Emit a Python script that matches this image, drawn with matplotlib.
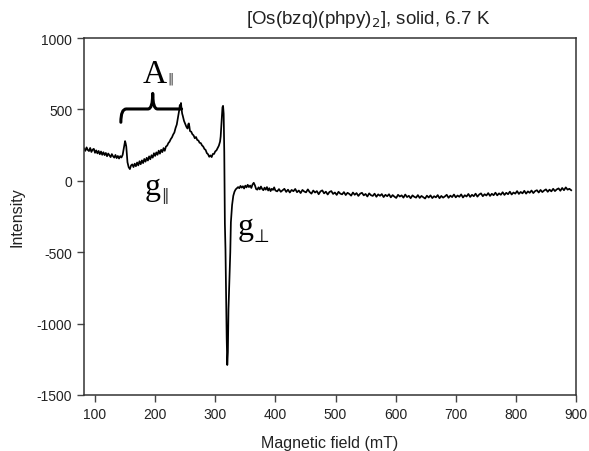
import matplotlib
matplotlib.use("Agg")
import matplotlib.pyplot as plt
from matplotlib.path import Path
from matplotlib.patches import PathPatch

# EPR spectrum of the solid at 6.7 K, as (field in mT, intensity) pairs,
# split into regions of the sweep.
low_field = [
    (82, 226), (84, 210), (86, 234), (88, 216), (90, 208), (92, 230), (94, 202),
    (96, 218), (98, 224), (100, 196), (102, 213), (104, 192), (106, 209), (108, 186),
    (110, 205), (112, 182), (114, 200), (116, 180), (118, 195), (120, 172), (122, 191),
    (124, 178), (126, 166), (128, 187), (130, 172), (132, 162), (134, 181), (136, 159),
    (138, 174), (140, 156), (142, 173), (144, 163), (146, 182),
]
parallel_region = [
    (148, 230), (150, 278), (151, 262), (152, 240), (153, 180), (154, 130), (156, 95),
    (158, 82), (160, 108), (162, 115), (164, 96), (166, 120), (168, 102), (170, 128),
    (172, 108), (174, 137), (176, 116), (178, 143), (180, 124), (182, 153), (184, 134),
    (186, 161), (188, 142), (190, 171), (192, 151), (194, 179), (196, 162), (198, 193),
    (200, 174), (202, 199), (204, 182), (206, 211), (208, 190), (210, 217), (212, 201),
    (214, 229), (216, 210), (218, 240), (220, 246), (222, 264), (224, 274), (226, 292),
    (228, 304), (230, 324), (232, 338), (234, 370), (236, 394), (238, 442), (240, 493),
    (241, 530), (242, 518), (243, 545), (244, 500), (245, 470), (246, 455), (248, 420),
    (250, 400), (252, 378), (254, 366), (255, 395), (256, 402), (257, 380), (258, 348),
    (260, 344), (262, 326), (264, 318), (266, 298), (268, 307), (270, 286), (272, 282),
    (274, 266), (276, 264), (278, 248), (280, 240), (282, 223), (284, 216), (286, 194),
    (288, 186), (290, 168), (292, 178), (294, 166), (296, 188), (298, 188), (300, 206),
    (302, 213), (304, 230), (306, 246), (308, 275), (309, 310), (310, 380), (311, 450),
    (312, 515), (313, 525), (314, 470), (315, 200),
]
perpendicular_region = [
    (316, -300), (317, -480), (318, -800), (319, -1100), (320, -1290), (321, -1200),
    (322, -900), (323, -760), (325, -500), (326, -290), (328, -170), (330, -105),
    (332, -76), (334, -60), (336, -52), (338, -44), (340, -52), (342, -36), (344, -48),
    (346, -38), (348, -54), (350, -34), (352, -46), (354, -28), (356, -44), (358, -33),
    (360, -50), (362, -26), (364, -14), (366, -32), (368, -58), (370, -62), (372, -46),
    (374, -60), (376, -40), (378, -57), (380, -66), (382, -48), (384, -62), (386, -44),
    (388, -68), (390, -52), (392, -72), (394, -56), (396, -64), (398, -46), (400, -68),
]
high_field = [
    (403, -74), (406, -58), (409, -77), (412, -66), (415, -56), (418, -78), (421, -62),
    (424, -82), (427, -64), (430, -73), (433, -57), (436, -80), (439, -68), (442, -86),
    (445, -64), (448, -75), (451, -81), (454, -60), (457, -79), (460, -90), (463, -68),
    (466, -82), (469, -72), (472, -94), (475, -74), (478, -67), (481, -88), (484, -76),
    (487, -96), (490, -78), (493, -72), (496, -92), (499, -82), (502, -99), (505, -77),
    (508, -90), (511, -95), (514, -79), (517, -100), (520, -84), (523, -92), (526, -104),
    (529, -82), (532, -98), (535, -86), (538, -106), (541, -90), (544, -84), (547, -102),
    (550, -92), (553, -110), (556, -88), (559, -101), (562, -106), (565, -90), (568, -112),
    (571, -95), (574, -105), (577, -93), (580, -114), (583, -98), (586, -108), (589, -94),
    (592, -116), (595, -100), (598, -111), (601, -120), (604, -98), (607, -110),
    (610, -102), (613, -118), (616, -96), (619, -114), (622, -105), (625, -122),
    (628, -102), (631, -112), (634, -118), (637, -100), (640, -120), (643, -106),
    (646, -115), (649, -124), (652, -104), (655, -117), (658, -102), (661, -121),
    (664, -108), (667, -116), (670, -100), (673, -122), (676, -106), (679, -118),
    (682, -109), (685, -98), (688, -119), (691, -104), (694, -114), (697, -96),
    (700, -116), (703, -103), (706, -112), (709, -95), (712, -117), (715, -101),
    (718, -110), (721, -92), (724, -113), (727, -98), (730, -108), (733, -90),
    (736, -111), (739, -96), (742, -88), (745, -108), (748, -94), (751, -103), (754, -86),
    (757, -106), (760, -91), (763, -101), (766, -83), (769, -102), (772, -88), (775, -98),
    (778, -80), (781, -99), (784, -84), (787, -94), (790, -76), (793, -96), (796, -82),
    (799, -90), (802, -72), (805, -92), (808, -78), (811, -88), (814, -70), (817, -90),
    (820, -74), (823, -84), (826, -68), (829, -86), (832, -72), (835, -66), (838, -82),
    (841, -64), (844, -79), (847, -68), (850, -60), (853, -77), (856, -62), (859, -74),
    (862, -56), (865, -72), (868, -60), (871, -53), (874, -70), (877, -50), (880, -66),
    (883, -46), (886, -62), (889, -56), (892, -66),
]

x_ticks = [100, 200, 300, 400, 500, 600, 700, 800, 900]
y_ticks = [-1500, -1000, -500, 0, 500, 1000]

spectrum = low_field + parallel_region + perpendicular_region + high_field
field = [p[0] for p in spectrum]
intensity = [p[1] for p in spectrum]

plt.rcParams["font.family"] = ["Liberation Sans", "DejaVu Sans"]
plt.rcParams["axes.unicode_minus"] = False

fig = plt.figure(figsize=(5.89, 4.52), dpi=100)
ax = fig.add_axes([84 / 589, 1 - 396 / 452, (576 - 84) / 589, (396 - 39) / 452])

ax.plot(field, intensity, color="black", lw=1.25)

ax.set_xlim(81.7, 900)
ax.set_ylim(-1500, 1000)
ax.set_xticks(x_ticks)
ax.set_yticks(y_ticks)
ax.tick_params(direction="out", length=5, width=1, color="#444444",
               labelsize=10, labelcolor="#222222", top=False, right=False)
for s in ax.spines.values():
    s.set_color("#333333")
    s.set_linewidth(1.1)

ax.set_xlabel("Magnetic field (mT)", fontsize=11.5, color="#222222", labelpad=10)
ax.set_ylabel("Intensity", fontsize=11.5, color="#222222", labelpad=9)

fig.text(0.625, 0.957, r"[Os(bzq)(phpy)$_2$], solid, 6.7 K", ha="center",
         va="center", fontsize=13.5, color="#222222")

# curly brace spanning the parallel hyperfine splitting
verts = [
    (143, 410), (143, 503), (152, 503),
    (188, 503),
    (196, 503), (196, 612),
    (196, 503), (204, 503),
    (244, 503),
]
codes = [Path.MOVETO, Path.CURVE3, Path.CURVE3, Path.LINETO,
         Path.CURVE3, Path.CURVE3, Path.CURVE3, Path.CURVE3, Path.LINETO]
ax.add_patch(PathPatch(Path(verts, codes), fill=False, lw=2.2, color="black",
                       capstyle="round", joinstyle="round"))

serif = ["Liberation Serif", "DejaVu Serif"]
sym = ["DejaVu Sans"]
ax.text(179, 692, "A", family=serif, fontsize=24, ha="left", va="baseline")
ax.text(221, 692, "\u2016", family=sym, fontsize=9, ha="left", va="baseline",
        color="#333333")
ax.text(182, -92, "g", family=serif, fontsize=23, ha="left", va="baseline")
ax.text(210, -125, "\u2016", family=sym, fontsize=10.5, ha="left", va="baseline",
        color="#333333")
ax.text(338, -370, "g", family=serif, fontsize=23, ha="left", va="baseline")
ax.text(363, -422, "\u22a5", family=sym, fontsize=13, ha="left", va="baseline")

fig.savefig("out.png", dpi=100)
